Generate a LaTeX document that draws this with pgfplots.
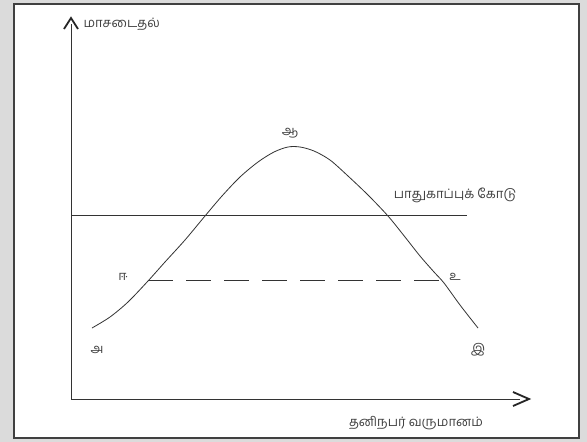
\documentclass[border=0pt]{standalone}
\usepackage{fontspec}
\newfontfamily\tamil[Script=Tamil]{Hind Madurai}
\usepackage{pgfplots}
\pgfplotsset{compat=1.18}

% curve, in pixel units (y counted downwards)
\pgfplotstableread{
x y
92 328
110 317
128 302
148 281
165 262
185 240
205 216
222 196
240 177
258 162
274 152
288 147
300 147
314 151
330 160
348 176
368 195
388 216
405 237
420 256
434 272
444 283
460 305
478 328
}\curvedata

\newcommand{\tl}[1]{{\tamil\fontsize{13}{15}\selectfont #1}}

\begin{document}
\begin{tikzpicture}
\begin{axis}[
  scale only axis,
  width=587pt, height=442pt,
  xmin=0, xmax=587, ymin=0, ymax=442,
  y dir=reverse,
  axis lines=none,
  clip=false,
]
  % page margin and frame
  \fill[black!14] (axis cs:0,0) rectangle (axis cs:587,442);
  \filldraw[fill=white, draw=black!75, line width=1.3pt]
    (axis cs:14,4) rectangle (axis cs:579,438);

  % axes with open arrow heads
  \draw[black!80, line width=0.9pt] (axis cs:71,399) -- (axis cs:71,24);
  \draw[black!85, line width=1.8pt] (axis cs:64,29) -- (axis cs:71,18) -- (axis cs:78,29);
  \draw[black!80, line width=0.9pt] (axis cs:71,399) -- (axis cs:520,399);
  \draw[black!85, line width=1.8pt] (axis cs:513,392) -- (axis cs:529,399) -- (axis cs:513,406);

  % safety line and dashed level
  \addplot[black!80, line width=0.9pt] coordinates {(71,215) (467,215)};
  \addplot[black!80, line width=0.9pt, dash pattern=on 25pt off 13pt]
    coordinates {(148,280) (445,280)};

  % pollution curve
  \addplot[black!80, line width=0.8pt, smooth, tension=0.5] table {\curvedata};

  % labels
  \node[anchor=west, text=black!75] at (axis cs:80,24) {\tl{மாசடைதல்}};
  \node[text=black!75] at (axis cs:416,423) {\tl{தனிநபர் வருமானம்}};
  \node[text=black!75] at (axis cs:455,195) {\tl{பாதுகாப்புக் கோடு}};
  \node[text=black!75] at (axis cs:290,133) {\tl{ஆ}};
  \node[text=black!75] at (axis cs:97,350) {\tl{அ}};
  \node[text=black!75] at (axis cs:478,350) {\tl{இ}};
  \node[text=black!75] at (axis cs:123,277) {\tl{ஈ}};
  \node[text=black!75] at (axis cs:455,277) {\tl{உ}};
\end{axis}
\end{tikzpicture}
\end{document}
